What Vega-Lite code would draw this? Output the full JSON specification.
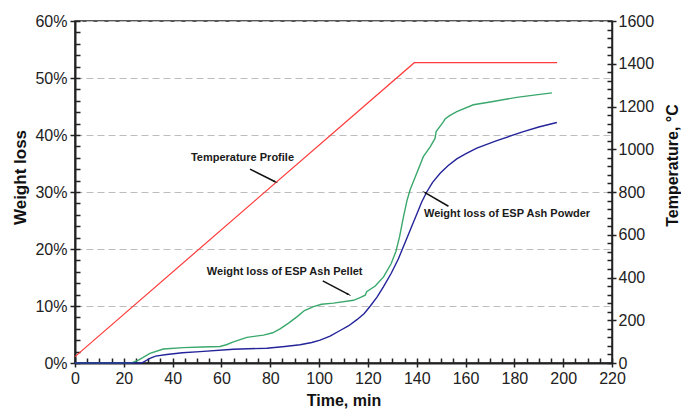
{
  "$schema": "https://vega.github.io/schema/vega-lite/v6.json",
  "width": 537,
  "height": 342,
  "autosize": {"type": "none"},
  "padding": {"left": 75, "top": 21, "right": 69, "bottom": 47},
  "background": "white",
  "config": {
    "view": {"stroke": "#222", "strokeWidth": 1.5},
    "axis": {
      "labelFont": "Liberation Sans",
      "labelFontSize": 16,
      "labelColor": "#222",
      "labelFlush": false,
      "labelOverlap": false,
      "titleFont": "Liberation Sans",
      "titleFontWeight": "bold",
      "titleColor": "#111",
      "domainColor": "#222",
      "tickColor": "#222",
      "grid": false
    },
    "text": {"font": "Liberation Sans"}
  },
  "datasets": {
    "weight": [
      {"t": 0, "wl": 0, "series": "Pellet"},
      {"t": 23.2, "wl": 0, "series": "Pellet"},
      {"t": 26, "wl": 0.005, "series": "Pellet"},
      {"t": 30.7, "wl": 0.017, "series": "Pellet"},
      {"t": 36.2, "wl": 0.0245, "series": "Pellet"},
      {"t": 44.4, "wl": 0.027, "series": "Pellet"},
      {"t": 52, "wl": 0.028, "series": "Pellet"},
      {"t": 59.4, "wl": 0.029, "series": "Pellet"},
      {"t": 62, "wl": 0.032, "series": "Pellet"},
      {"t": 64.9, "wl": 0.037, "series": "Pellet"},
      {"t": 70.4, "wl": 0.045, "series": "Pellet"},
      {"t": 77.2, "wl": 0.049, "series": "Pellet"},
      {"t": 81, "wl": 0.053, "series": "Pellet"},
      {"t": 84, "wl": 0.06, "series": "Pellet"},
      {"t": 87.5, "wl": 0.07, "series": "Pellet"},
      {"t": 90.9, "wl": 0.081, "series": "Pellet"},
      {"t": 94, "wl": 0.092, "series": "Pellet"},
      {"t": 97.7, "wl": 0.099, "series": "Pellet"},
      {"t": 101, "wl": 0.103, "series": "Pellet"},
      {"t": 105.9, "wl": 0.105, "series": "Pellet"},
      {"t": 114.1, "wl": 0.11, "series": "Pellet"},
      {"t": 117, "wl": 0.115, "series": "Pellet"},
      {"t": 118.9, "wl": 0.119, "series": "Pellet"},
      {"t": 119.5, "wl": 0.125, "series": "Pellet"},
      {"t": 123, "wl": 0.135, "series": "Pellet"},
      {"t": 126.4, "wl": 0.151, "series": "Pellet"},
      {"t": 129.5, "wl": 0.174, "series": "Pellet"},
      {"t": 131.5, "wl": 0.196, "series": "Pellet"},
      {"t": 133, "wl": 0.222, "series": "Pellet"},
      {"t": 134.5, "wl": 0.255, "series": "Pellet"},
      {"t": 136, "wl": 0.285, "series": "Pellet"},
      {"t": 137.3, "wl": 0.304, "series": "Pellet"},
      {"t": 140, "wl": 0.333, "series": "Pellet"},
      {"t": 142.7, "wl": 0.362, "series": "Pellet"},
      {"t": 145.5, "wl": 0.379, "series": "Pellet"},
      {"t": 147.5, "wl": 0.394, "series": "Pellet"},
      {"t": 147.95, "wl": 0.406, "series": "Pellet"},
      {"t": 150.9, "wl": 0.423, "series": "Pellet"},
      {"t": 151.6, "wl": 0.428, "series": "Pellet"},
      {"t": 153.5, "wl": 0.434, "series": "Pellet"},
      {"t": 156.4, "wl": 0.441, "series": "Pellet"},
      {"t": 163.2, "wl": 0.453, "series": "Pellet"},
      {"t": 170.1, "wl": 0.458, "series": "Pellet"},
      {"t": 181, "wl": 0.466, "series": "Pellet"},
      {"t": 188, "wl": 0.47, "series": "Pellet"},
      {"t": 195.4, "wl": 0.474, "series": "Pellet"},
      {"t": 0, "wl": 0, "series": "Powder"},
      {"t": 27.3, "wl": 0, "series": "Powder"},
      {"t": 30.7, "wl": 0.008, "series": "Powder"},
      {"t": 33, "wl": 0.012, "series": "Powder"},
      {"t": 37.6, "wl": 0.015, "series": "Powder"},
      {"t": 44, "wl": 0.018, "series": "Powder"},
      {"t": 51.2, "wl": 0.02, "series": "Powder"},
      {"t": 64.9, "wl": 0.024, "series": "Powder"},
      {"t": 78.6, "wl": 0.026, "series": "Powder"},
      {"t": 86, "wl": 0.029, "series": "Powder"},
      {"t": 92.2, "wl": 0.032, "series": "Powder"},
      {"t": 97, "wl": 0.036, "series": "Powder"},
      {"t": 100.4, "wl": 0.04, "series": "Powder"},
      {"t": 104.5, "wl": 0.047, "series": "Powder"},
      {"t": 108.6, "wl": 0.057, "series": "Powder"},
      {"t": 112, "wl": 0.065, "series": "Powder"},
      {"t": 115.5, "wl": 0.076, "series": "Powder"},
      {"t": 118.5, "wl": 0.087, "series": "Powder"},
      {"t": 121, "wl": 0.1, "series": "Powder"},
      {"t": 123.8, "wl": 0.116, "series": "Powder"},
      {"t": 126.4, "wl": 0.134, "series": "Powder"},
      {"t": 129.5, "wl": 0.157, "series": "Powder"},
      {"t": 132.5, "wl": 0.183, "series": "Powder"},
      {"t": 135.2, "wl": 0.211, "series": "Powder"},
      {"t": 137.8, "wl": 0.238, "series": "Powder"},
      {"t": 140, "wl": 0.261, "series": "Powder"},
      {"t": 142, "wl": 0.282, "series": "Powder"},
      {"t": 144.1, "wl": 0.3, "series": "Powder"},
      {"t": 146.5, "wl": 0.317, "series": "Powder"},
      {"t": 149.6, "wl": 0.333, "series": "Powder"},
      {"t": 152.8, "wl": 0.346, "series": "Powder"},
      {"t": 156.4, "wl": 0.358, "series": "Powder"},
      {"t": 160, "wl": 0.367, "series": "Powder"},
      {"t": 164.6, "wl": 0.377, "series": "Powder"},
      {"t": 172.8, "wl": 0.39, "series": "Powder"},
      {"t": 183.7, "wl": 0.406, "series": "Powder"},
      {"t": 190, "wl": 0.414, "series": "Powder"},
      {"t": 197.4, "wl": 0.422, "series": "Powder"}
    ],
    "temp": [
      {"t": 0, "temp": 30},
      {"t": 139, "temp": 1405},
      {"t": 197.5, "temp": 1405}
    ],
    "notes": [
      {"t": 68.6, "y": 0.36, "label": "Temperature Profile"},
      {"t": 85.9, "y": 0.16, "label": "Weight loss of ESP Ash Pellet"},
      {"t": 177.0, "y": 0.261, "label": "Weight loss of ESP Ash Powder"}
    ],
    "arrows": [
      {"name": "temp", "t": 71.7, "y": 0.34, "t2": 82.0, "y2": 0.318},
      {"name": "pellet", "t": 101.5, "y": 0.144, "t2": 112.0, "y2": 0.1205},
      {"name": "powder", "t": 153.0, "y": 0.275, "t2": 143.4, "y2": 0.299}
    ]
  },
  "layer": [
    {
      "data": {"name": "weight"},
      "mark": {"type": "line", "strokeWidth": 1.4},
      "encoding": {
        "x": {
          "field": "t", "type": "quantitative",
          "scale": {"domain": [0, 220], "nice": false},
          "axis": {
            "orient": "bottom",
            "values": [0, 20, 40, 60, 80, 100, 120, 140, 160, 180, 200, 220],
            "tickSize": 4, "tickWidth": 1.5, "labelPadding": 3, "domainWidth": 2,
            "title": "Time, min", "titleFontSize": 16,
            "titleY": 37, "titleBaseline": "middle"
          }
        },
        "y": {
          "field": "wl", "type": "quantitative",
          "scale": {"domain": [0, 0.6], "nice": false},
          "axis": {
            "orient": "left",
            "values": [0, 0.1, 0.2, 0.3, 0.4, 0.5, 0.6],
            "format": ".0%",
            "tickSize": 5, "tickWidth": 1.5, "labelPadding": 3, "domainWidth": 2,
            "grid": true, "gridColor": "#bdbdbd", "gridDash": [7, 4], "gridWidth": 1,
            "title": "Weight loss", "titleFontSize": 17,
            "titleX": -55, "titleY": 156, "titleBaseline": "middle", "titleAlign": "center", "titleAngle": -90
          }
        },
        "color": {
          "field": "series", "type": "nominal",
          "scale": {"domain": ["Pellet", "Powder"], "range": ["#3aa86c", "#23239a"]},
          "legend": null
        }
      }
    },
    {
      "data": {"name": "temp"},
      "mark": {"type": "line", "color": "#ff3b3b", "strokeWidth": 1.2},
      "encoding": {
        "x": {"field": "t", "type": "quantitative", "scale": {"domain": [0, 220], "nice": false}, "axis": null},
        "y": {
          "field": "temp", "type": "quantitative",
          "scale": {"domain": [0, 1600], "nice": false},
          "axis": {
            "orient": "right",
            "values": [0, 200, 400, 600, 800, 1000, 1200, 1400, 1600],
            "format": "d",
            "tickSize": 4, "tickWidth": 1.5, "labelPadding": 2, "domainWidth": 1.5,
            "title": "Temperature, °C", "titleFontSize": 16,
            "titleX": 60, "titleY": 144, "titleBaseline": "middle", "titleAlign": "center", "titleAngle": -90
          }
        }
      }
    },
    {
      "data": {"name": "temp"},
      "mark": {"type": "point", "opacity": 0},
      "encoding": {
        "x": {"field": "t", "type": "quantitative", "scale": {"domain": [0, 220], "nice": false}, "axis": null},
        "y": {
          "field": "temp", "type": "quantitative",
          "scale": {"domain": [0, 1600], "nice": false},
          "axis": {
            "orient": "right",
            "values": [0, 40, 80, 120, 160, 200, 240, 280, 320, 360, 400, 440, 480, 520, 560, 600, 640, 680, 720, 760, 800, 840, 880, 920, 960, 1000, 1040, 1080, 1120, 1160, 1200, 1240, 1280, 1320, 1360, 1400, 1440, 1480, 1520, 1560, 1600],
            "tickSize": -5, "tickWidth": 1.5, "tickColor": "#222", "labels": false, "domain": false, "title": null
          }
        }
      }
    },
    {
      "data": {"name": "notes"},
      "mark": {"type": "text", "fontSize": 11, "fontWeight": "bold", "color": "#1a1a1a", "align": "center", "baseline": "middle"},
      "encoding": {
        "x": {
          "field": "t", "type": "quantitative",
          "scale": {"domain": [0, 220], "nice": false},
          "axis": {
            "orient": "bottom",
            "values": [0, 5, 10, 15, 20, 25, 30, 35, 40, 45, 50, 55, 60, 65, 70, 75, 80, 85, 90, 95, 100, 105, 110, 115, 120, 125, 130, 135, 140, 145, 150, 155, 160, 165, 170, 175, 180, 185, 190, 195, 200, 205, 210, 215, 220],
            "tickSize": -5, "tickWidth": 1.5, "tickColor": "#222", "labels": false, "domain": false, "title": null
          }
        },
        "y": {
          "field": "y", "type": "quantitative",
          "scale": {"domain": [0, 0.6], "nice": false},
          "axis": {
            "orient": "left",
            "values": [0, 0.02, 0.04, 0.06, 0.08, 0.1, 0.12, 0.14, 0.16, 0.18, 0.2, 0.22, 0.24, 0.26, 0.28, 0.3, 0.32, 0.34, 0.36, 0.38, 0.4, 0.42, 0.44, 0.46, 0.48, 0.5, 0.52, 0.54, 0.56, 0.58, 0.6],
            "tickSize": -5, "tickWidth": 1.5, "tickColor": "#222", "labels": false, "domain": false, "title": null
          }
        },
        "text": {"field": "label", "type": "nominal"}
      }
    },
    {
      "data": {"name": "arrows"},
      "mark": {"type": "rule", "color": "#111", "strokeWidth": 1.5},
      "encoding": {
        "x": {"field": "t", "type": "quantitative", "scale": {"domain": [0, 220], "nice": false}, "axis": null},
        "y": {"field": "y", "type": "quantitative", "scale": {"domain": [0, 0.6], "nice": false}, "axis": null},
        "x2": {"field": "t2"},
        "y2": {"field": "y2"}
      }
    },
    {
      "data": {"name": "arrows"},
      "transform": [{"filter": "datum.name === 'temp'"}],
      "mark": {"type": "point", "shape": "wedge", "filled": true, "color": "#111", "opacity": 1, "size": 40, "angle": 116},
      "encoding": {
        "x": {"field": "t2", "type": "quantitative", "scale": {"domain": [0, 220], "nice": false}, "axis": null},
        "y": {"field": "y2", "type": "quantitative", "scale": {"domain": [0, 0.6], "nice": false}, "axis": null}
      }
    },
    {
      "data": {"name": "arrows"},
      "transform": [{"filter": "datum.name === 'pellet'"}],
      "mark": {"type": "point", "shape": "wedge", "filled": true, "color": "#111", "opacity": 1, "size": 40, "angle": 118},
      "encoding": {
        "x": {"field": "t2", "type": "quantitative", "scale": {"domain": [0, 220], "nice": false}, "axis": null},
        "y": {"field": "y2", "type": "quantitative", "scale": {"domain": [0, 0.6], "nice": false}, "axis": null}
      }
    },
    {
      "data": {"name": "arrows"},
      "transform": [{"filter": "datum.name === 'powder'"}],
      "mark": {"type": "point", "shape": "wedge", "filled": true, "color": "#111", "opacity": 1, "size": 40, "angle": 300},
      "encoding": {
        "x": {"field": "t2", "type": "quantitative", "scale": {"domain": [0, 220], "nice": false}, "axis": null},
        "y": {"field": "y2", "type": "quantitative", "scale": {"domain": [0, 0.6], "nice": false}, "axis": null}
      }
    }
  ],
  "resolve": {
    "scale": {"x": "independent", "y": "independent"},
    "axis": {"x": "independent", "y": "independent"}
  }
}
